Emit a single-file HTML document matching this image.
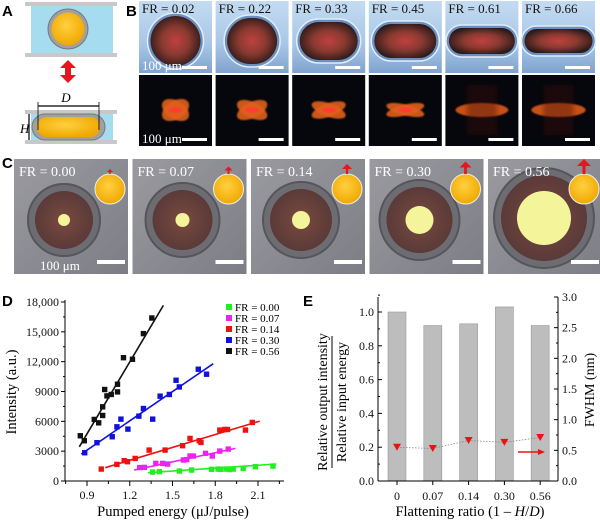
<!DOCTYPE html>
<html><head><meta charset="utf-8"><style>
html,body{margin:0;padding:0;background:#fff;}
svg{display:block;font-family:"Liberation Serif",serif;}
.lbl{font-family:"Liberation Sans",sans-serif;font-weight:bold;font-size:15px;}
.tk{font-size:12px;fill:#111;}
</style></head><body>
<svg id="fig" width="600" height="524" viewBox="0 0 600 524" xmlns="http://www.w3.org/2000/svg">
<defs>
<radialGradient id="gold" cx="45%" cy="40%" r="60%"><stop offset="0" stop-color="#ffd040"/><stop offset="1" stop-color="#f0a800"/></radialGradient>
<linearGradient id="blueTile" x1="0" y1="0" x2="0" y2="1"><stop offset="0" stop-color="#c4dcf2"/><stop offset="0.6" stop-color="#a9c6e6"/><stop offset="1" stop-color="#7fa3cf"/></linearGradient>
<radialGradient id="dropIn" cx="50%" cy="50%" r="55%"><stop offset="0" stop-color="#c04040"/><stop offset="0.5" stop-color="#8a3a30"/><stop offset="1" stop-color="#2a1a1a"/></radialGradient>
<linearGradient id="grayTile" x1="0" y1="0" x2="1" y2="1"><stop offset="0" stop-color="#9a9aa0"/><stop offset="1" stop-color="#7d7d85"/></linearGradient>
<radialGradient id="redDisk" cx="50%" cy="50%" r="50%"><stop offset="0" stop-color="#7a4a40"/><stop offset="1" stop-color="#5a3a38"/></radialGradient>
<filter id="blur2"><feGaussianBlur stdDeviation="2.5"/></filter>
<filter id="blur1"><feGaussianBlur stdDeviation="0.8"/></filter>
</defs>

<!-- Panel A -->
<g>
<text class="lbl" x="2" y="16">A</text>
<rect x="31" y="5" width="82" height="49" fill="#a6dcf0"/>
<rect x="25" y="2" width="92" height="4" fill="#c8c8c8"/>
<rect x="25" y="53" width="92" height="4" fill="#c8c8c8"/>
<circle cx="68" cy="29" r="20" fill="#a0a0a0" stroke="#777" stroke-width="1"/>
<circle cx="68" cy="29" r="16.5" fill="url(#gold)"/>
<g fill="#e8141e">
<polygon points="68,60 60,68 65,68 65,75 60,75 68,83 76,75 71,75 71,68 76,68"/>
</g>
<rect x="25" y="110" width="92" height="4" fill="#c8c8c8"/>
<rect x="31" y="114" width="82" height="26" fill="#a6dcf0"/>
<rect x="25" y="140" width="92" height="4" fill="#c8c8c8"/>
<rect x="32" y="114" width="73" height="26" rx="13" fill="#a0a0a0" stroke="#777"/>
<rect x="37" y="117" width="63" height="20" rx="10" fill="url(#gold)"/>
<text x="66" y="102" font-size="13" font-style="italic" text-anchor="middle">D</text>
<line x1="38" y1="106" x2="99" y2="106" stroke="#000" stroke-width="1.2"/>
<line x1="38" y1="102" x2="38" y2="130" stroke="#000" stroke-width="0.8"/>
<line x1="99" y1="102" x2="99" y2="130" stroke="#000" stroke-width="0.8"/>
<text x="20" y="133" font-size="13" font-style="italic">H</text>
<line x1="29" y1="114" x2="29" y2="140" stroke="#000" stroke-width="1.2"/>
</g>

<!-- Panel B -->
<g id="panelB">
<text class="lbl" x="126" y="16">B</text>
</g>

<!-- Panel C -->
<g id="panelC">
<text class="lbl" x="2" y="168">C</text>
</g>

<!-- Panel D -->
<g id="panelD">
<text class="lbl" x="2" y="306">D</text>
<text x="16" y="392" font-size="14.5" text-anchor="middle" transform="rotate(-90 16 392)">Intensity (a.u.)</text>
<text x="173" y="516" font-size="14.5" text-anchor="middle">Pumped energy (μJ/pulse)</text>
</g>

<!-- Panel E -->
<g id="panelE">
<text class="lbl" x="303" y="306">E</text>
<text x="327" y="402" font-size="14" text-anchor="middle" transform="rotate(-90 327 402)">Relative output intensity</text>
<line x1="332" y1="336" x2="332" y2="468" stroke="#000" stroke-width="1"/>
<text x="346" y="402" font-size="14" text-anchor="middle" transform="rotate(-90 346 402)">Relative input energy</text>
<text x="594" y="390" font-size="14" text-anchor="middle" transform="rotate(-90 594 390)">FWHM (nm)</text>
<text x="470" y="516" font-size="14.5" text-anchor="middle">Flattening ratio (1 – <tspan font-style="italic">H</tspan>/<tspan font-style="italic">D</tspan>)</text>
</g>
</svg>
<script>
const NS="http://www.w3.org/2000/svg";
function mk(tag,attrs,parent){const e=document.createElementNS(NS,tag);for(const k in attrs)e.setAttribute(k,attrs[k]);parent.appendChild(e);return e;}

// ---------- Panel B ----------
const bLabels=["FR = 0.02","FR = 0.22","FR = 0.33","FR = 0.45","FR = 0.61","FR = 0.66"];
const bHalfW=[25,25,29,31,33,34];
const bHalfH=[25,23,19,17,13,12];
const pB=document.getElementById('panelB');
bLabels.forEach((t,i)=>{
  const x=139+i*76.6, w=73, cx=x+w/2;
  const g=mk('g',{},pB);
  
  
  mk('rect',{x:x,y:1,width:w,height:72,fill:'url(#blueTile)'},g);
  mk('rect',{x:cx-bHalfW[i]-3,y:41-bHalfH[i]-3,width:2*bHalfW[i]+6,height:2*bHalfH[i]+6,rx:Math.min(bHalfH[i]+3,bHalfW[i]+3),fill:'#6c8fbf',stroke:'#dfeefa','stroke-width':1.5},g);
  mk('rect',{x:cx-bHalfW[i],y:41-bHalfH[i],width:2*bHalfW[i],height:2*bHalfH[i],rx:Math.min(bHalfH[i],bHalfW[i]),fill:'url(#dropIn)'},g);
  const tx=mk('text',{x:x+3,y:13,'font-size':13,fill:'#111'},g);tx.textContent=t;
  mk('rect',{x:x+w-30,y:66,width:25,height:3,fill:'#fff'},g);
  mk('rect',{x:x,y:75,width:w,height:71,fill:'#05070c'},g);
  if(i<4){
    const rw=15+i*1.5, rh=9-i*1.2;
    mk('ellipse',{cx:cx,cy:110,rx:rw,ry:rh,fill:'#e0601c',filter:'url(#blur1)',transform:`rotate(${32-i*6} ${cx} 110)`,opacity:0.9},g);
    mk('ellipse',{cx:cx,cy:110,rx:rw,ry:rh,fill:'#e0601c',filter:'url(#blur1)',transform:`rotate(${-32+i*6} ${cx} 110)`,opacity:0.9},g);
    mk('ellipse',{cx:cx,cy:110,rx:7,ry:2.5,fill:'#ff3a30',filter:'url(#blur1)'},g);
  } else {
    mk('ellipse',{cx:cx,cy:110,rx:bHalfW[i]*0.8,ry:7,fill:'#e05a18',filter:'url(#blur1)',opacity:0.9},g);
    mk('rect',{x:cx-15,y:85,width:30,height:50,fill:'#401008',opacity:0.4,filter:'url(#blur2)'},g);
  }
  mk('rect',{x:x+w-30,y:138,width:25,height:3,fill:'#fff'},g);
});
const sb1=mk('text',{x:142,y:70,'font-size':13,fill:'#fff'},pB);sb1.textContent='100 μm';
const sb2=mk('text',{x:142,y:143,'font-size':13,fill:'#fff'},pB);sb2.textContent='100 μm';

// ---------- Panel C ----------
const cLabels=["FR = 0.00","FR = 0.07","FR = 0.14","FR = 0.30","FR = 0.56"];
const cRing=[36,37,38,40,50];
const cDot=[6,7,9,14,27];
const pC=document.getElementById('panelC');
cLabels.forEach((t,i)=>{
  const x=14+i*118.5, w=114, y=159, h=115;
  const g=mk('g',{},pC);
  
  
  mk('rect',{x:x,y:y,width:w,height:h,fill:'url(#grayTile)'},g);
  const cx=x+50+(i==4?6:0), cy=220+(i==4?-2:0);
  mk('circle',{cx:cx,cy:cy,r:cRing[i],fill:'#6c6c72',stroke:'#55555a','stroke-width':2},g);
  mk('circle',{cx:cx,cy:cy,r:cRing[i]-7,fill:'url(#redDisk)'},g);
  mk('circle',{cx:cx,cy:cy,r:cDot[i],fill:'#f4f59a'},g);
  const tx=mk('text',{x:x+5,y:y+17,'font-size':14,fill:'#fff'},g);tx.textContent=t;
  mk('circle',{cx:x+w-18,cy:y+30,r:15,fill:'url(#gold)',stroke:'#eee','stroke-width':1},g);
  const al=2+i*1.5, base=y+15;
  mk('line',{x1:x+w-18,y1:base,x2:x+w-18,y2:base-al,stroke:'#e8141e','stroke-width':1.5+i*0.4},g);
  mk('polygon',{points:`${x+w-21-i},${base-al} ${x+w-15+i},${base-al} ${x+w-18},${base-al-3-i}`,fill:'#e8141e'},g);
  mk('rect',{x:x+w-31,y:y+h-14,width:28,height:4,fill:'#fff'},g);
});
const sbc=mk('text',{x:40,y:270,'font-size':13,fill:'#fff'},pC);sbc.textContent='100 μm';

// ---------- Panel D data ----------
const xTicksD=[0.9,1.2,1.5,1.8,2.1];
const yTicksD=[0,3000,6000,9000,12000,15000,18000];
const yTickLabelsD=["0","3000","6000","9000","12,000","15,000","18,000"];
const seriesNames=["FR = 0.00","FR = 0.07","FR = 0.14","FR = 0.30","FR = 0.56"];
const seriesColors=["#22ee22","#ee22ee","#ee1111","#1111dd","#111111"];
const xs056=[0.853,0.881,0.951,0.982,1.01,1.01,1.024,1.04,1.07,1.114,1.114,1.156,1.219,1.296,1.355];
const ys056=[4550,4050,6190,5850,7460,6590,9200,8560,8700,9730,8960,12400,12240,14820,16390];
const xs030=[0.884,0.97,1.077,1.11,1.138,1.187,1.264,1.296,1.361,1.413,1.478,1.525,1.548,1.681,1.739];
const ys030=[2840,3850,4450,5450,6220,5220,6520,7290,6220,8530,8700,10130,9460,11240,10740];
const xs014=[1.0,1.11,1.161,1.184,1.238,1.336,1.448,1.571,1.623,1.688,1.7,1.832,1.867,1.886,2.012,2.06];
const ys014=[1200,1670,2040,1940,2270,3110,3110,3550,4280,4050,3880,5120,5180,5180,5120,5890];
const xs007=[1.27,1.303,1.383,1.431,1.466,1.576,1.6,1.623,1.646,1.732,1.779,1.832,1.891];
const ys007=[1350,1370,1770,1770,1700,2110,2150,2510,2510,2780,2510,3010,3210];
const xs000=[1.36,1.408,1.548,1.634,1.774,1.82,1.879,1.926,1.996,2.082,2.205,1.9,1.84];
const ys000=[900,940,1000,1100,1170,1200,1200,1200,1270,1440,1500,1150,1180];
const fitX0=[1.327,1.231,1.028,0.86,0.846];
const fitY0=[840,1100,1340,2710,3440];
const fitX1=[2.229,1.942,2.112,1.786,1.436];
const fitY1=[1710,3280,6020,11800,17660];
const ptsX=[xs000,xs007,xs014,xs030,xs056];
const ptsY=[ys000,ys007,ys014,ys030,ys056];

const pD=document.getElementById('panelD');
const dxs=v=>87+(v-0.9)*142.5;
const dys=v=>481-v/18000*179;
const axD=mk('g',{stroke:'#000','stroke-width':1},pD);


mk('line',{x1:65,y1:300,x2:65,y2:481},axD);
mk('line',{x1:65,y1:481,x2:284,y2:481},axD);
yTicksD.forEach((v,i)=>{
  mk('line',{x1:61,y1:dys(v),x2:65,y2:dys(v)},axD);
  if(i<yTicksD.length-1) mk('line',{x1:63,y1:dys(v+1500),x2:65,y2:dys(v+1500)},axD);
  const t=mk('text',{x:59,y:dys(v)+4,'text-anchor':'end',class:'tk',stroke:'none'},pD);
  
  
  t.textContent=yTickLabelsD[i];
});
xTicksD.forEach((v,i)=>{
  mk('line',{x1:dxs(v),y1:481,x2:dxs(v),y2:486},axD);
  mk('line',{x1:dxs(v-0.15),y1:481,x2:dxs(v-0.15),y2:484},axD);
  const t=mk('text',{x:dxs(v),y:499,'text-anchor':'middle',class:'tk'},pD);
  
  
  t.textContent=v.toFixed(1);
});
mk('line',{x1:dxs(2.25),y1:481,x2:dxs(2.25),y2:484},axD);
seriesNames.forEach((n,s)=>{
  const g=mk('g',{},pD);
  
  
  const fl=mk('line',{x1:dxs(fitX0[s]),y1:dys(fitY0[s]),x2:dxs(fitX1[s]),y2:dys(fitY1[s]),stroke:seriesColors[s],'stroke-width':1.6},g);
  
  
  ptsX[s].forEach((xv,k)=>{
    const r=mk('rect',{x:dxs(xv)-2.7,y:dys(ptsY[s][k])-2.7,width:5.4,height:5.4,fill:seriesColors[s]},g);
    
    
  });
  const ly=307+s*11;
  const lr=mk('rect',{x:226,y:ly-3,width:6,height:6,fill:seriesColors[s]},pD);
  
  
  const lt=mk('text',{x:235,y:ly+4,'font-size':11},pD);
  
  
  lt.textContent=n;
});

// ---------- Panel E data ----------
const eCats=["0","0.07","0.14","0.30","0.56"];
const eBars=[1.0,0.92,0.93,1.03,0.92];
const eFwhm=[0.55,0.53,0.66,0.63,0.71];
const eLeftTicks=[0,0.2,0.4,0.6,0.8,1.0];
const eRightTicks=[0,0.5,1.0,1.5,2.0,2.5,3.0];
const pE=document.getElementById('panelE');
const eyl=v=>481-v*169;
const eyr=v=>481-v/3.0*184;
const exs=i=>397+i*35.8;
eCats.forEach((c,i)=>{
  const b=mk('rect',{x:exs(i)-9,y:eyl(eBars[i]),width:18,height:481-eyl(eBars[i]),fill:'#bdbdbd',stroke:'#999','stroke-width':0.6},pE);
  
  
  const t=mk('text',{x:exs(i),y:500,'text-anchor':'middle',class:'tk'},pE);
  
  
  t.textContent=c;
});
const pl=mk('polyline',{points:eFwhm.map((v,i)=>exs(i)+','+eyr(v)).join(' '),fill:'none',stroke:'#888','stroke-width':0.8,'stroke-dasharray':'1.5,1.5'},pE);


eFwhm.forEach((v,i)=>{
  const x=exs(i),y=eyr(v);
  const m=mk('polygon',{points:`${x-4},${y-3.5} ${x+4},${y-3.5} ${x},${y+3.5}`,fill:'#ee1111'},pE);
  
  
});
const axE=mk('g',{stroke:'#000','stroke-width':1},pE);


mk('line',{x1:378,y1:297,x2:378,y2:481},axE);
mk('line',{x1:558,y1:297,x2:558,y2:481},axE);
mk('line',{x1:378,y1:481,x2:558,y2:481},axE);
eCats.forEach((c,i)=>mk('line',{x1:exs(i),y1:481,x2:exs(i),y2:485},axE));
eLeftTicks.forEach(v=>{
  mk('line',{x1:378,y1:eyl(v),x2:382,y2:eyl(v)},axE);
  mk('line',{x1:378,y1:eyl(v+0.1),x2:380,y2:eyl(v+0.1)},axE);
  const t=mk('text',{x:374,y:eyl(v)+4,'text-anchor':'end',class:'tk',stroke:'none'},pE);
  
  
  t.textContent=v.toFixed(1);
});
eRightTicks.forEach(v=>{
  mk('line',{x1:554,y1:eyr(v),x2:558,y2:eyr(v)},axE);
  if(v<3) mk('line',{x1:556,y1:eyr(v+0.25),x2:558,y2:eyr(v+0.25)},axE);
  const t=mk('text',{x:562,y:eyr(v)+4,class:'tk',stroke:'none'},pE);
  
  
  t.textContent=v.toFixed(1);
});
const arr=mk('g',{},pE);


mk('line',{x1:518,y1:452,x2:540,y2:452,stroke:'#ee1111','stroke-width':1.5},arr);
mk('polygon',{points:'545,452 538,449 538,455',fill:'#ee1111'},arr);
</script>
</body></html>
